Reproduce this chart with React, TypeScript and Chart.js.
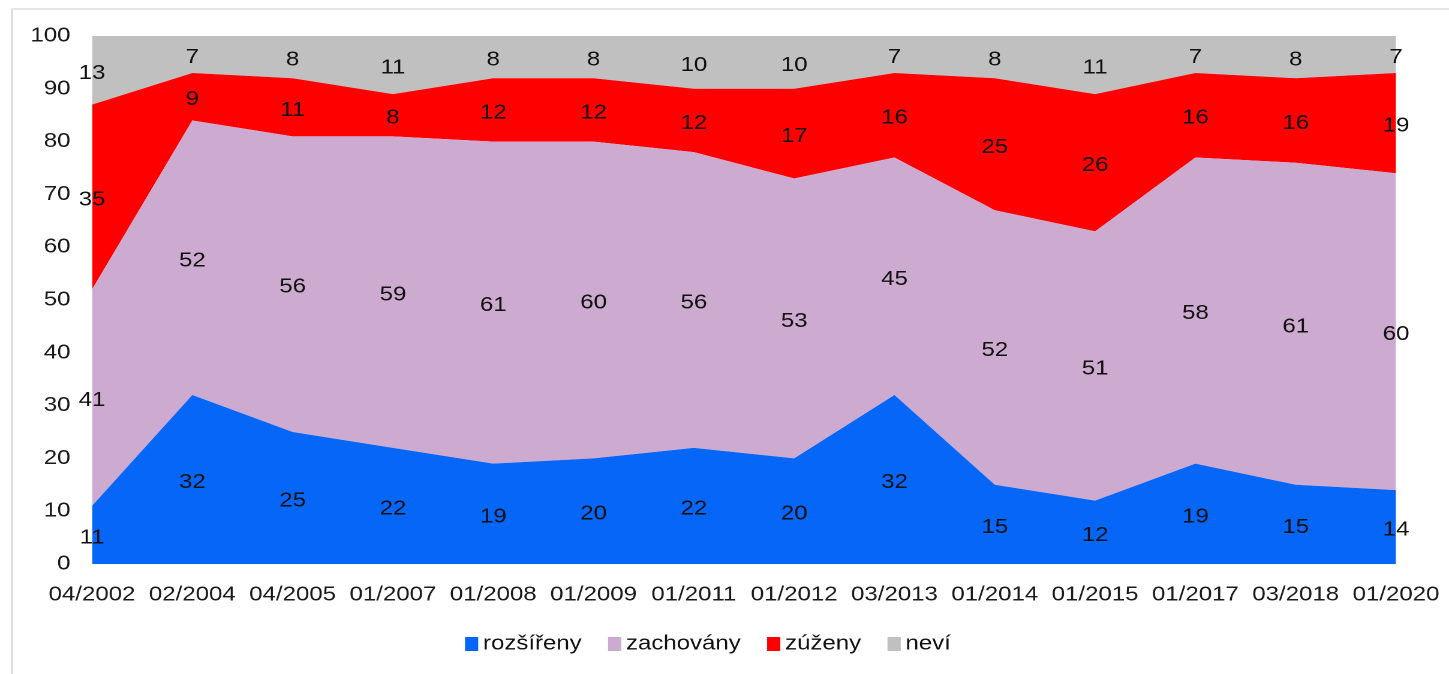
import React, { useEffect, useRef } from 'react';
import { Chart, registerables } from 'chart.js';

Chart.register(...registerables);

const categories = ['04/2002', '02/2004', '04/2005', '01/2007', '01/2008', '01/2009', '01/2011', '01/2012', '03/2013', '01/2014', '01/2015', '01/2017', '03/2018', '01/2020'];
const rozsireny = [11, 32, 25, 22, 19, 20, 22, 20, 32, 15, 12, 19, 15, 14];
const zachovany = [41, 52, 56, 59, 61, 60, 56, 53, 45, 52, 51, 58, 61, 60];
const zuzeny = [35, 9, 11, 8, 12, 12, 12, 17, 16, 25, 26, 16, 16, 19];
const nevi = [13, 7, 8, 11, 8, 8, 10, 10, 7, 8, 11, 7, 8, 7];
const seriesNames = ['rozšířeny', 'zachovány', 'zúženy', 'neví'];
const seriesColors = ['#0566F8', '#CDAACF', '#FF0000', '#C0C0C0'];
const seriesData = [rozsireny, zachovany, zuzeny, nevi];

const DISPLAY_W = 1449;
const H = 674;
const W = 1208;
const S = DISPLAY_W / W;
const FONT = '"Liberation Sans", Arial, sans-serif';

const segLabels = {
  id: 'segLabels',
  afterDatasetsDraw(chart: any) {
    const { ctx } = chart;
    const x = chart.scales.x;
    const y = chart.scales.y;
    ctx.save();
    ctx.font = `20px ${FONT}`;
    ctx.fillStyle = '#111';
    ctx.textAlign = 'center';
    ctx.textBaseline = 'middle';
    for (let j = 0; j < categories.length; j++) {
      let base = 0;
      chart.data.datasets.forEach((ds: any) => {
        const v = ds.data[j] as number;
        const mid = base + v / 2;
        ctx.fillText(String(v), x.getPixelForValue(j), y.getPixelForValue(mid) + 3);
        base += v;
      });
    }
    ctx.restore();
  },
};

const customLegend = {
  id: 'customLegend',
  afterDraw(chart: any) {
    const { ctx } = chart;
    ctx.save();
    ctx.font = `20px ${FONT}`;
    ctx.textBaseline = 'middle';
    ctx.textAlign = 'left';
    let x = 465 / S;
    const yc = 644;
    seriesNames.forEach((name, i) => {
      ctx.fillStyle = seriesColors[i];
      ctx.fillRect(x, yc - 7, 11, 14);
      x += 11 + 4;
      ctx.fillStyle = '#111';
      ctx.fillText(name, x, yc);
      x += ctx.measureText(name).width + 22;
    });
    ctx.restore();
  },
};

export default function App() {
  const ref = useRef<HTMLCanvasElement | null>(null);

  useEffect(() => {
    if (!ref.current) return;
    const tickFont = { family: FONT, size: 20 };
    const chart = new Chart(ref.current, {
      type: 'line',
      data: {
        labels: categories,
        datasets: seriesData.map((d, i) => ({
          label: seriesNames[i],
          data: d,
          backgroundColor: seriesColors[i],
          borderColor: seriesColors[i],
          borderWidth: 0,
          pointRadius: 0,
          tension: 0,
          fill: i === 0 ? 'origin' : '-1',
        })),
      },
      options: {
        responsive: false,
        devicePixelRatio: 2,
        animation: false,
        layout: { padding: { left: 0, right: 1449 / S - 1396 / S, top: 36, bottom: 60 } },
        plugins: {
          legend: { display: false },
          tooltip: { enabled: false },
        },
        scales: {
          x: {
            offset: false,
            grid: { display: false, drawTicks: false },
            border: { display: false },
            ticks: { padding: 19, font: tickFont, color: '#1a1a1a', maxRotation: 0, autoSkip: false },
            afterFit: (s: any) => {
              s.height = 50;
              s.paddingLeft = 0;
              s.paddingRight = 0;
            },
          },
          y: {
            stacked: true,
            min: 0,
            max: 100,
            grid: { display: false, drawTicks: false },
            border: { display: false },
            ticks: { stepSize: 10, padding: 18, font: tickFont, color: '#1a1a1a' },
            afterFit: (s: any) => {
              s.width = 92 / S;
            },
          },
        },
      } as any,
      plugins: [segLabels, customLegend],
    });
    return () => chart.destroy();
  }, []);

  return (
    <div style={{ position: 'fixed', left: 0, top: 0, width: DISPLAY_W, height: H, background: '#fff', overflow: 'hidden' }}>
      <div
        style={{
          position: 'absolute',
          left: 11,
          top: 8,
          width: DISPLAY_W,
          height: H,
          borderLeft: '2px solid #dedede',
          borderTop: '2px solid #e6e6e6',
        }}
      />
      <canvas
        ref={ref}
        width={W}
        height={H}
        style={{ position: 'absolute', left: 0, top: 0, width: DISPLAY_W + 'px', height: H + 'px' }}
      />
    </div>
  );
}
